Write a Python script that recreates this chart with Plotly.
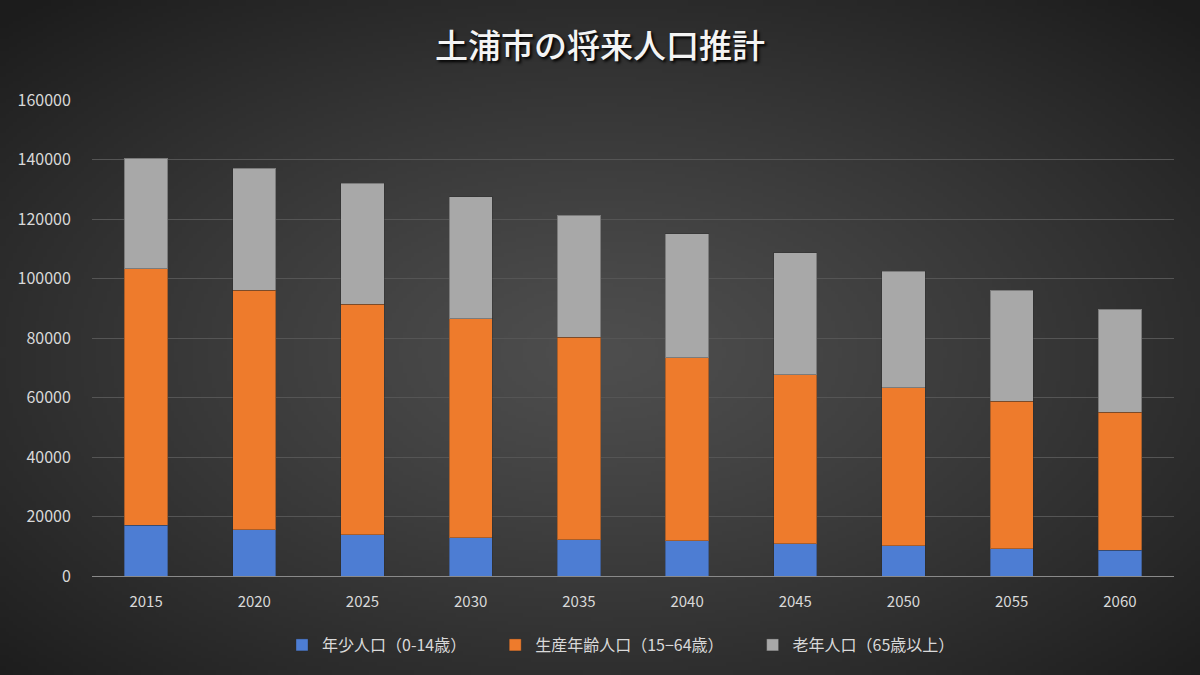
import base64, struct, zlib
import numpy as np
import plotly.graph_objects as go

years = ["2015", "2020", "2025", "2030", "2035", "2040", "2045", "2050", "2055", "2060"]
young = [17100, 15500, 13900, 12900, 12200, 11800, 10800, 10100, 9200, 8700]
working = [86100, 80600, 77500, 73500, 68100, 61500, 56800, 53100, 49600, 46400]
elderly = [37300, 41000, 40700, 41000, 41000, 41700, 41000, 39300, 37300, 34600]
series_names = ["年少人口（0-14歳）", "生産年齢人口（15−64歳）", "老年人口（65歳以上）"]
title_text = "土浦市の将来人口推計"

W, H = 1200, 675
L, R, T, B = 92, 26, 100, 99
pw, ph = W - L - R, H - T - B

# radial gradient background image as PNG data URI
iw, ih = 320, 180
yy, xx = np.mgrid[0:ih, 0:iw]
dx = (xx - iw * 0.5) / (iw * 0.5)
dy = (yy - ih * 0.52) / (ih * 0.5)
d = np.sqrt(dx ** 2 + dy ** 2) / np.sqrt(2)
v = 78 - (78 - 28) * np.clip(d, 0, 1) ** 1.2
img = np.stack([v, v, v], axis=-1).astype(np.uint8)
raw = b"".join(b"\x00" + img[r].tobytes() for r in range(ih))
def chunk(tag, data):
    c = struct.pack(">I", len(data)) + tag + data
    return c + struct.pack(">I", zlib.crc32(tag + data) & 0xffffffff)
png = b"\x89PNG\r\n\x1a\n" + chunk(b"IHDR", struct.pack(">IIBBBBB", iw, ih, 8, 2, 0, 0, 0)) \
    + chunk(b"IDAT", zlib.compress(raw, 9)) + chunk(b"IEND", b"")
bg_uri = "data:image/png;base64," + base64.b64encode(png).decode()

font = "Noto Sans CJK JP"
colors = ["#4d7dd3", "#ee7b2c", "#a8a8a8"]
fig = go.Figure()
for name, vals, col in zip(series_names, [young, working, elderly], colors):
    fig.add_trace(go.Bar(x=years, y=vals, name=name + "\u3000\u3000",
                         marker=dict(color=col, line=dict(color="rgba(40,40,40,0.35)", width=1)),
                         width=0.4))

fig.update_layout(
    width=W, height=H, barmode="stack",
    margin=dict(l=L, r=R, t=T, b=B),
    paper_bgcolor="#2e2e2e", plot_bgcolor="rgba(0,0,0,0)",
    title=dict(text=title_text, x=0.5, xanchor="center", y=1 - 46 / H, yanchor="middle",
               font=dict(family=font, size=33, weight=500, color="#f4f4f4", shadow="2px 2px 3px #000")),
    font=dict(family=font, color="#d9d9d9", size=15),
    xaxis=dict(showgrid=False, showline=True, linecolor="#8a8a8a", linewidth=1, ticks="outside", ticklen=12,
               tickcolor="rgba(0,0,0,0)", tickfont=dict(size=15, color="#d9d9d9")),
    yaxis=dict(range=[0, 160000], dtick=20000, showgrid=True, gridcolor="#555555", gridwidth=1,
               zeroline=False, tickformat="d", ticks="outside", ticklen=17, tickcolor="rgba(0,0,0,0)",
               tickfont=dict(size=16, color="#d9d9d9")),
    legend=dict(orientation="h", x=0.5, xanchor="center", y=-(645 - 576) / ph, yanchor="middle",
                traceorder="normal", itemwidth=30, font=dict(size=16, color="#d9d9d9"),
                bgcolor="rgba(0,0,0,0)"),
    images=[dict(source=bg_uri, xref="paper", yref="paper", x=-L / pw, y=1 + T / ph,
                 sizex=W / pw, sizey=H / ph, sizing="stretch", layer="below", xanchor="left", yanchor="top")],
)
fig.write_html("out.html")
